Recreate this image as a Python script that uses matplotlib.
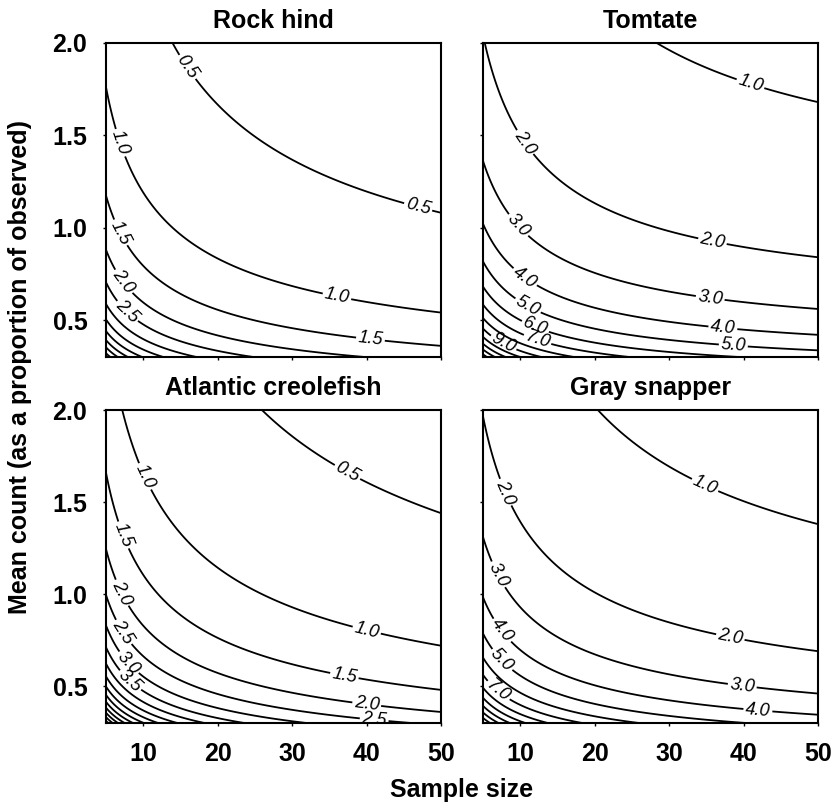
import numpy as np
import matplotlib.pyplot as plt

plt.rcParams['font.family'] = ['Liberation Sans', 'DejaVu Sans']

species = ['Rock hind', 'Tomtate', 'Atlantic creolefish', 'Gray snapper']

# precision surface: value = sqrt(a / (n - c) + b) / mean
coef_a = [12.56, 77.0, 24.4, 71.1]
coef_b = [0.036, 1.28, 0.0195, 0.475]
coef_c = [0.9, 0.0, 1.05, 0.25]

levels_rock = [0.5, 1.0, 1.5, 2.0, 2.5, 3.0, 3.5, 4.0, 4.5, 5.0, 5.5, 6.0]
levels_tomtate = [1.0, 2.0, 3.0, 4.0, 5.0, 6.0, 7.0, 8.0, 9.0, 10.0, 11.0, 12.0, 13.0, 14.0]
levels_creole = [0.5, 1.0, 1.5, 2.0, 2.5, 3.0, 3.5, 4.0, 4.5, 5.0, 5.5, 6.0, 6.5, 7.0, 7.5, 8.0, 8.5]
levels_snapper = [1.0, 2.0, 3.0, 4.0, 5.0, 6.0, 7.0, 8.0, 9.0, 10.0, 11.0, 12.0, 13.0]
all_levels = [levels_rock, levels_tomtate, levels_creole, levels_snapper]

sample_range = (5, 50)
mean_range = (0.3, 2.0)

# labelled contours: (level, sample size where the label sits)
label_spec = [
    [(0.5, 15.9), (0.5, 46.9), (1.0, 6.9), (1.0, 36.0), (1.5, 6.9), (1.5, 40.5),
     (2.0, 7.3), (2.5, 7.8)],
    [(1.0, 40.9), (2.0, 10.6), (2.0, 35.8), (3.0, 9.7), (3.0, 35.5), (4.0, 10.6),
     (4.0, 37.2), (5.0, 11.0), (5.0, 38.6), (6.0, 12.0), (7.0, 12.3), (9.0, 7.7)],
    [(0.5, 37.4), (1.0, 10.2), (1.0, 40.0), (1.5, 7.3), (1.5, 37.0), (2.0, 7.1),
     (2.0, 40.0), (2.5, 7.3), (2.5, 41.0), (3.0, 8.0), (3.5, 8.2)],
    [(1.0, 34.8), (2.0, 8.0), (2.0, 38.2), (3.0, 7.0), (3.0, 39.8), (4.0, 7.5),
     (4.0, 41.9), (5.0, 7.5), (7.0, 7.0)],
]


def surface(i, n, m):
    return np.sqrt(coef_a[i] / (n - coef_c[i]) + coef_b[i]) / m


n = np.linspace(sample_range[0], sample_range[1], 400)
m = np.linspace(mean_range[0], mean_range[1], 400)
N, M = np.meshgrid(n, m)

fig = plt.figure(figsize=(8.38, 8.10), dpi=100)
boxes = [
    [0.1265, 0.5593, 0.400, 0.3877],
    [0.5764, 0.5593, 0.400, 0.3877],
    [0.1265, 0.1074, 0.400, 0.3864],
    [0.5764, 0.1074, 0.400, 0.3864],
]

for i, name in enumerate(species):
    ax = fig.add_axes(boxes[i])
    Z = surface(i, N, M)
    cs = ax.contour(N, M, Z, levels=all_levels[i], colors='black', linewidths=1.3)

    # put each label on its own contour
    pos = [(x, surface(i, x, 1.0) / lev) for lev, x in label_spec[i]]
    labels = ax.clabel(cs, manual=pos, inline=True, inline_spacing=2,
                       fmt='%.1f', fontsize=13)
    for t in labels:
        t.set_fontstyle('italic')

    ax.set_xlim(sample_range)
    ax.set_ylim(mean_range)
    ax.set_xticks([10, 20, 30, 40, 50])
    ax.set_yticks([0.5, 1.0, 1.5, 2.0])
    ax.set_yticklabels(['0.5', '1.0', '1.5', '2.0'])
    ax.tick_params(direction='out', length=2.5, width=1, labelsize=18, pad=11)
    for t in ax.get_xticklabels() + ax.get_yticklabels():
        t.set_fontweight('bold')
    if i < 2:
        ax.tick_params(labelbottom=False)
    if i % 2 == 1:
        ax.tick_params(labelleft=False)
    for s in ax.spines.values():
        s.set_linewidth(1.5)
    ax.set_title(name, fontsize=18, fontweight='bold', pad=11)

fig.text(0.551, 0.025, 'Sample size', ha='center', va='center', fontsize=18,
         fontweight='bold')
fig.text(0.024, 0.547, 'Mean count (as a proportion of observed)', ha='center',
         va='center', rotation=90, fontsize=18, fontweight='bold')

fig.savefig('out.png', dpi=100)
